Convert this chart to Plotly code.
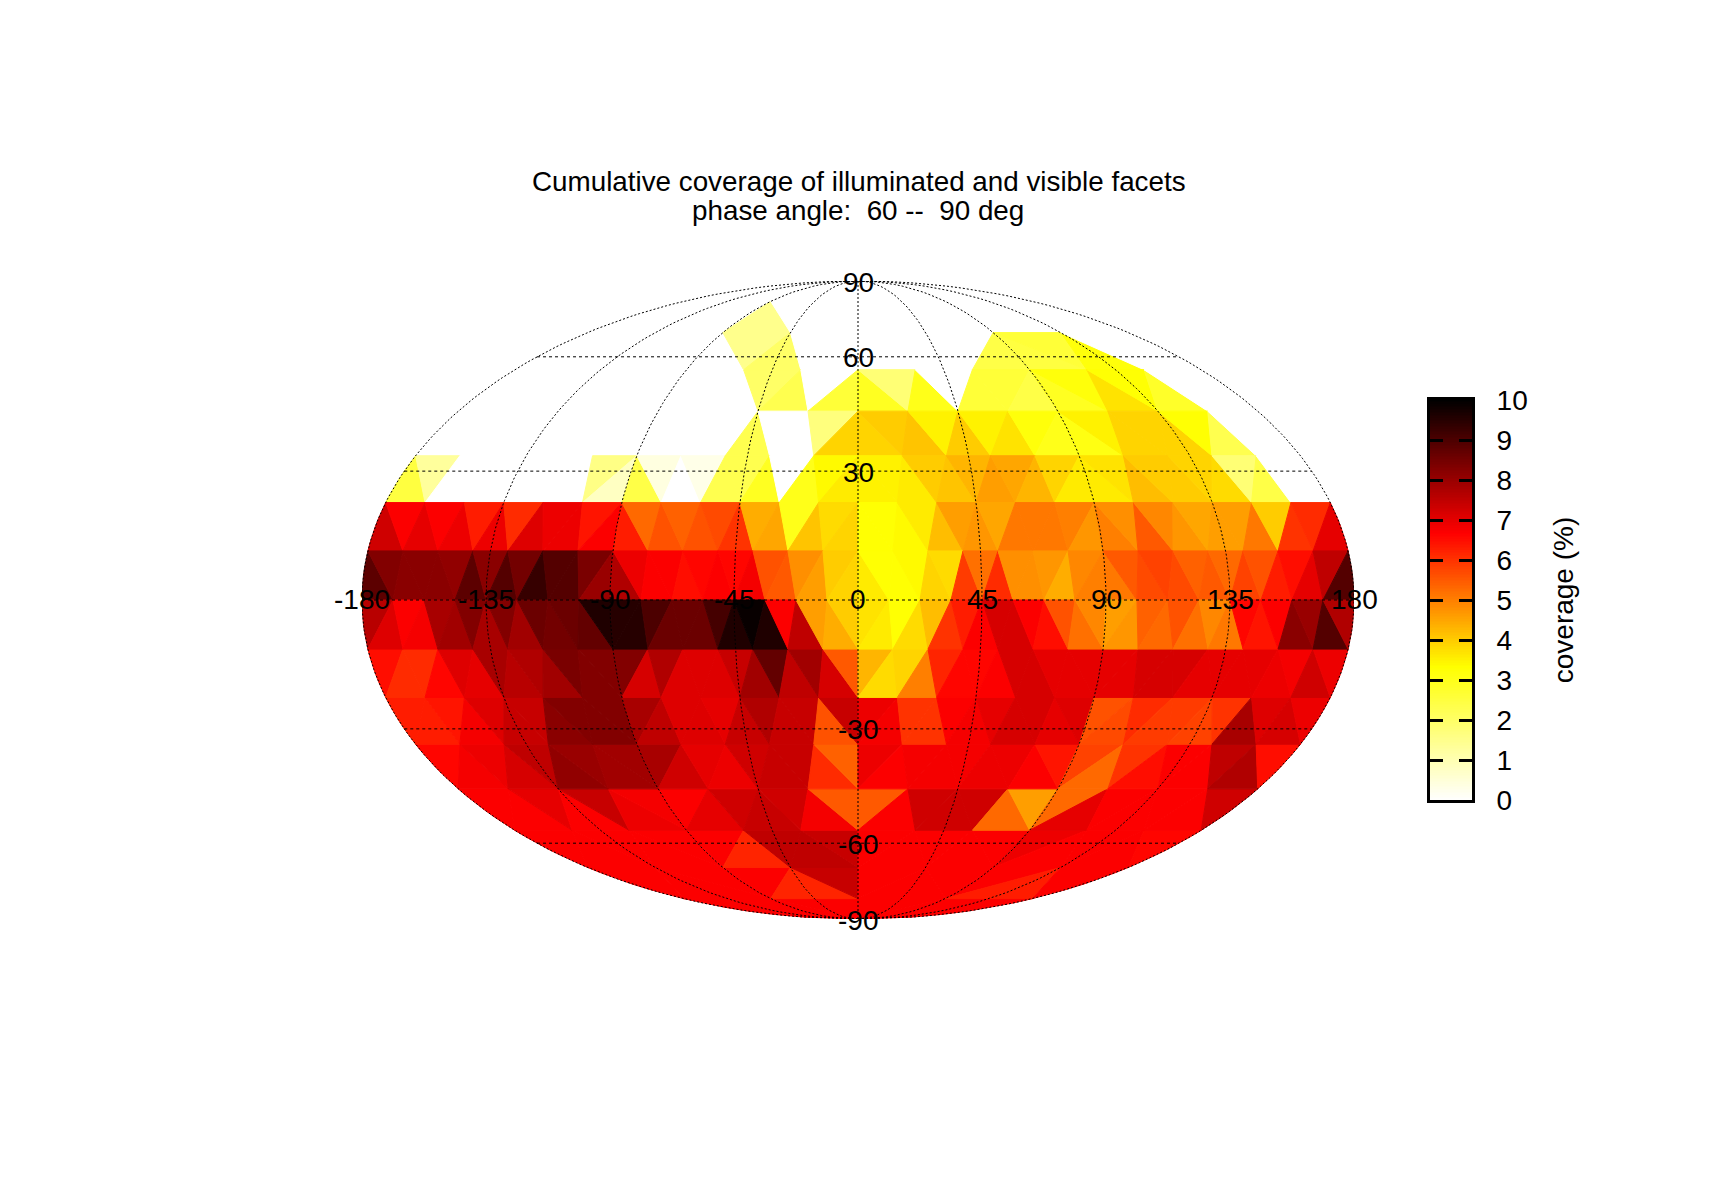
import numpy as np
import plotly.graph_objects as go
from plotly.colors import sample_colorscale

# coverage (%) per facet of the octahedral mesh, band by band from the pole to the equator,
# left to right, 2k+1 facets per octant (octants start at lon -180, -90, 0, 90)
north_0 = [0, 0, 0, 0]
north_1 = [0, 0, 0, 1.5, 0, 0, 0, 0, 0, 0, 0, 0]
north_2 = [0, 0, 0, 0, 0, 0, 1.5, 2, 0, 0, 0, 0, 0, 0, 2.4, 2.5, 2.6, 3.2, 0, 0]
north_3 = [0, 0, 0, 0, 0, 0, 0,
           0, 0, 0, 2.0, 2.3, 0, 2.6,
           2.9, 1.8, 3.0, 0, 2.6, 2.6, 2.4,
           2.9, 3.2, 3.7, 3.3, 2.8, 0, 0]
north_4 = [0, 0, 0, 0, 0, 0, 0, 0, 0,
           0, 0, 0, 0, 2.3, 0, 0, 1.7, 3.9,
           3.9, 4.0, 4.1, 3.5, 4.0, 3.5, 3.7, 3.2, 3.0,
           3.1, 3.5, 3.9, 3.9, 3.9, 3.3, 2.3, 0, 0]
north_5 = [2.5, 1.3, 0, 0, 0, 0, 0, 0, 0, 1.6, 0.8,
           2.4, 0.4, 0, 0.3, 2.3, 2.3, 2.9, 0, 3.0, 3.4, 3.6,
           3.5, 3.5, 3.6, 4.0, 4.1, 4.3, 4.6, 4.5, 4.3, 3.9, 3.6,
           3.6, 3.7, 4.2, 4.0, 4.0, 3.9, 3.8, 1.8, 2.4, 0, 0]
north_6 = [7.3, 6.7, 7.0, 6.7, 6.9, 6.3, 6.9, 6.1, 7.1, 6.9, 6.9, 6.4, 6.7,
           6.3, 5.3, 5.6, 5.4, 5.6, 5.7, 6.0, 4.4, 4.5, 3.0, 4.1, 3.8, 3.9,
           3.3, 3.3, 3.4, 3.6, 4.2, 4.6, 4.7, 4.5, 5.1, 5.1, 5.1, 5.0, 4.7,
           5.0, 4.8, 5.5, 4.9, 4.7, 4.5, 4.6, 4.6, 5.1, 4.0, 6.0, 6.1, 7.0]
north_7 = [8.8, 8.3, 8.2, 8.2, 8.2, 8.1, 8.8, 8.2, 8.9, 8.5, 9.3, 8.9, 8.9, 8.4, 8.0,
           7.7, 6.9, 6.7, 6.7, 6.5, 6.6, 6.7, 6.6, 6.8, 5.6, 5.5, 4.8, 4.6, 4.0, 3.9,
           3.6, 3.3, 3.3, 3.4, 3.9, 3.8, 5.9, 5.2, 6.1, 4.8, 4.8, 4.7, 4.4, 4.9, 5.0,
           5.1, 5.5, 5.7, 5.8, 5.7, 5.4, 5.5, 5.3, 5.8, 5.6, 6.3, 6.5, 7.0, 7.5, 8.9]

south_0 = [6.7, 6.7, 6.7, 6.7]
south_1 = [6.7, 6.7, 6.7, 6.7, 6.2, 7.4, 6.7, 6.7, 6.7, 6.7, 6.3, 6.7]
south_2 = [6.7, 6.7, 6.7, 6.7, 6.7, 6.7, 6.2, 7.5, 7.5, 7.4,
           6.7, 6.7, 6.7, 6.7, 6.7, 6.9, 6.7, 6.7, 6.7, 6.6]
south_3 = [6.7, 6.7, 7.0, 6.7, 7.4, 6.9, 6.8,
           6.7, 7.0, 7.3, 7.4, 7.3, 6.8, 5.5,
           5.5, 6.7, 7.3, 7.3, 7.3, 5.3, 4.6,
           5.3, 7.0, 6.7, 6.7, 6.7, 6.7, 7.3]
south_4 = [6.6, 6.8, 6.9, 7.2, 7.5, 8.1, 8.0, 7.9, 7.9,
           7.8, 7.3, 7.0, 6.9, 7.3, 7.4, 7.4, 6.1, 5.4,
           6.9, 6.7, 6.8, 6.8, 6.8, 6.9, 6.9, 6.7, 6.4,
           5.8, 5.3, 6.0, 6.5, 6.7, 6.7, 7.5, 7.7, 6.5]
south_5 = [6.3, 6.3, 6.4, 6.8, 7.1, 7.4, 7.4, 8.2, 8.3, 8.3, 8.3,
           7.8, 7.5, 7.1, 7.1, 7.0, 7.4, 7.7, 7.4, 7.4, 5.6, 7.4,
           6.9, 6.8, 6.0, 6.0, 6.7, 6.8, 7.0, 7.2, 7.2, 7.0, 7.1,
           5.6, 5.7, 6.1, 5.9, 5.9, 5.8, 6.0, 7.8, 7.1, 7.2, 6.9]
south_6 = [6.5, 6.1, 6.1, 6.6, 7.1, 7.0, 7.8, 7.6, 7.7, 7.9, 8.4, 8.3, 8.3,
           8.3, 7.2, 7.7, 7.1, 7.1, 7.1, 7.4, 7.9, 8.7, 7.5, 7.9, 7.2, 5.5,
           4.3, 3.8, 3.9, 5.0, 6.2, 6.6, 6.6, 6.7, 7.2, 7.2, 7.0, 7.0, 7.0,
           7.0, 7.0, 7.2, 7.2, 7.2, 7.0, 7.0, 7.0, 7.0, 6.9, 6.8, 7.3, 6.9]
south_7 = [7.6, 7.1, 6.7, 6.8, 7.8, 7.9, 8.3, 7.8, 8.3, 7.9, 8.6, 8.5, 8.6, 8.7, 9.6,
           9.5, 9.5, 9.0, 8.6, 8.6, 8.6, 9.1, 9.6, 9.9, 9.6, 6.7, 7.5, 4.6, 4.4, 4.0,
           3.7, 3.6, 3.3, 3.8, 4.2, 6.0, 6.3, 6.7, 7.2, 7.2, 6.7, 6.5, 5.6, 5.2, 4.9,
           4.6, 4.7, 5.4, 5.3, 5.6, 5.2, 4.9, 5.1, 6.6, 6.4, 6.7, 8.2, 8.0, 8.9, 7.7]

north_bands = [north_0, north_1, north_2, north_3, north_4, north_5, north_6, north_7]
south_bands = [south_0, south_1, south_2, south_3, south_4, south_5, south_6, south_7]

lon_ticks = [-180, -135, -90, -45, 0, 45, 90, 135, 180]
lat_ticks = [90, 60, 30, -30, -60, -90]
bar_ticks = [0, 1, 2, 3, 4, 5, 6, 7, 8, 9, 10]

title_1 = "Cumulative coverage of illuminated and visible facets"
title_2 = "phase angle:  60 --  90 deg"

W, H = 1716, 1200
PAGE = 8  # default body margin of the page, the figure is made smaller so it fits the window
FONT = "Liberation Sans"
SIZE = 28
hot_r = [[0, "#ffffff"], [1 / 3, "#ffff00"], [2 / 3, "#ff0000"], [1, "#000000"]]


def px(v):
    return (v - PAGE) / (W - 2 * PAGE)


def py(v):
    return 1 - (v - PAGE) / (H - 2 * PAGE)


def mollweide(lon, lat):
    lon = np.asarray(lon, dtype=float)
    phi = np.radians(np.asarray(lat, dtype=float))
    # bisection, newton gets stuck close to the poles
    lo = np.full_like(phi, -np.pi / 2)
    hi = np.full_like(phi, np.pi / 2)
    for _ in range(50):
        th = (lo + hi) / 2
        above = 2 * th + np.sin(2 * th) > np.pi * np.sin(phi)
        hi = np.where(above, th, hi)
        lo = np.where(above, lo, th)
    th = (lo + hi) / 2
    return lon / 180 * np.cos(th), np.sin(th)


def outline(a, b, c):
    # facet edges are straight, only the ones on the rim of the map follow the ellipse
    pts = []
    for p, q in ((a, b), (b, c), (c, a)):
        rim = max(abs(p[0]), abs(q[0])) == 180 and all(abs(e[0]) == 180 or abs(e[1]) == 90 for e in (p, q))
        if rim:
            rim_lon = p[0] if abs(p[0]) == 180 else q[0]
            for t in np.linspace(0, 1, 6, endpoint=False):
                pts.append((rim_lon, p[1] + (q[1] - p[1]) * t))
        else:
            pts.append(p)
    pts.append(pts[0])
    return mollweide([p[0] for p in pts], [p[1] for p in pts])


fig = go.Figure()

for sign, bands in ((1, north_bands), (-1, south_bands)):
    for k, values in enumerate(bands):
        n = 2 * k + 1
        lat_p = sign * (90 - 11.25 * k)
        lat_e = sign * (90 - 11.25 * (k + 1))
        for o in range(4):
            lon0 = -180 + 90 * o
            for i in range(n):
                v = values[o * n + i]
                j = i // 2
                pstep = 90 / k if k else 0
                estep = 90 / (k + 1)
                if i % 2 == 0:
                    tri = ((lon0 + j * estep, lat_e), (lon0 + (j + 1) * estep, lat_e), (lon0 + j * pstep, lat_p))
                else:
                    tri = ((lon0 + j * pstep, lat_p), (lon0 + (j + 1) * pstep, lat_p), (lon0 + (j + 1) * estep, lat_e))
                x, y = outline(*tri)
                col = sample_colorscale(hot_r, [v / 10])[0]
                fig.add_trace(go.Scatter(x=x, y=y, mode="lines", fill="toself", fillcolor=col,
                                         line=dict(color=col, width=1), hoverinfo="skip", showlegend=False))

# graticule
grid_lat = np.linspace(-90, 90, 181)
for lon in lon_ticks:
    x, y = mollweide(np.full_like(grid_lat, lon), grid_lat)
    fig.add_trace(go.Scatter(x=x, y=y, mode="lines", line=dict(color="black", width=1, dash="2px,2px"),
                             hoverinfo="skip", showlegend=False))
for lat in [60, 30, 0, -30, -60]:
    x, y = mollweide([-180, 180], [lat, lat])
    fig.add_trace(go.Scatter(x=x, y=y, mode="lines", line=dict(color="black", width=1, dash="3px,3px"),
                             hoverinfo="skip", showlegend=False))

# colour bar as its own small axes, it has ticks on both sides
bar_levels = np.linspace(0, 10, 256)
fig.add_trace(go.Heatmap(z=bar_levels.reshape(-1, 1), x=[0], y=bar_levels, xaxis="x2", yaxis="y2",
                         colorscale=hot_r, zmin=0, zmax=10, showscale=False, hoverinfo="skip"))

# graticule labels, nudged to sit as in the original
labels = []
x, y = mollweide(lon_ticks, [0] * len(lon_ticks))
for xi, yi, t in zip(x, y, lon_ticks):
    labels.append(dict(x=xi, y=yi, text=str(t), xref="x", yref="y", showarrow=False, yshift=1,
                       font=dict(family=FONT, size=SIZE)))
x, y = mollweide([0] * len(lat_ticks), lat_ticks)
for xi, yi, t in zip(x, y, lat_ticks):
    labels.append(dict(x=xi, y=yi, text=str(t), xref="x", yref="y", showarrow=False, yshift=-1,
                       font=dict(family=FONT, size=SIZE)))

fig.update_layout(
    width=W - 2 * PAGE, height=H - 2 * PAGE, margin=dict(l=0, r=0, t=0, b=0, autoexpand=False),
    paper_bgcolor="white", plot_bgcolor="rgba(0,0,0,0)", showlegend=False,
    font=dict(family=FONT, size=SIZE, color="black"),
    xaxis=dict(domain=[px(362), px(1354)], range=[-1, 1], visible=False),
    yaxis=dict(domain=[py(919), py(281)], range=[-1, 1], visible=False),
    xaxis2=dict(domain=[px(1430), px(1472)], anchor="y2", showticklabels=False, ticks="",
                showline=True, linewidth=3, linecolor="black", mirror=True, showgrid=False, zeroline=False),
    yaxis2=dict(domain=[py(800), py(400)], anchor="x2", side="right", range=[0, 10], tickvals=bar_ticks,
                ticks="inside", ticklen=13, tickwidth=3, tickcolor="black", showline=True, linewidth=3,
                linecolor="black", mirror="ticks", showgrid=False, zeroline=False, ticklabelstandoff=16,
                automargin=False, tickfont=dict(family=FONT, size=SIZE),
                title=dict(text="coverage (%)", standoff=27, font=dict(family=FONT, size=SIZE))),
    annotations=labels + [
        dict(text=title_1, x=px(859), y=py(182), xref="paper", yref="paper", showarrow=False,
             xanchor="center", yanchor="middle", font=dict(family=FONT, size=27.8)),
        dict(text=title_2, x=px(858), y=py(210), xref="paper", yref="paper", showarrow=False,
             xanchor="center", yanchor="middle", font=dict(family=FONT, size=27.8)),
    ],
)

fig.write_html("out.html")
